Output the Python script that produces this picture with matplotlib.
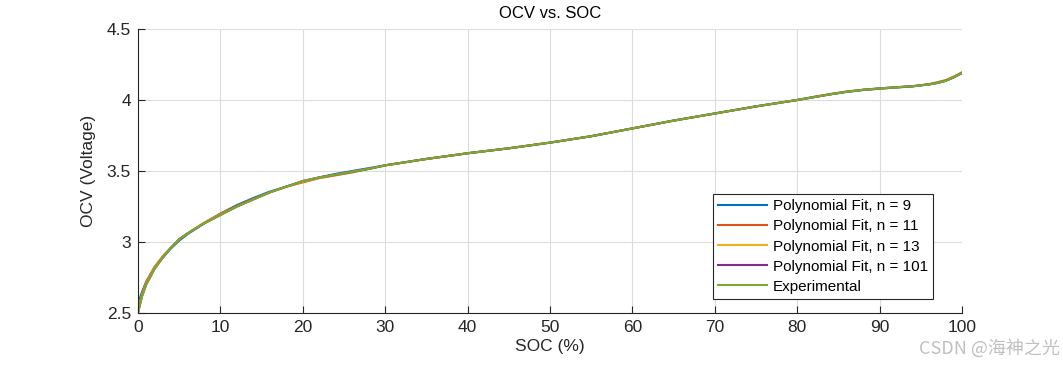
import matplotlib.pyplot as plt

# --- data ---
soc = [0, 0.5, 1, 2, 3, 4, 5, 6, 8, 10, 12, 14, 16, 18, 20, 22, 24, 26, 28, 30,
       35, 40, 45, 50, 55, 60, 65, 70, 75, 80, 82, 84, 86, 88, 90, 92, 94, 96,
       97, 98, 99, 100]

ocv_exp = [2.50, 2.62, 2.70, 2.81, 2.89, 2.96, 3.02, 3.06, 3.13, 3.19, 3.25,
           3.30, 3.35, 3.39, 3.43, 3.455, 3.475, 3.495, 3.515, 3.54, 3.585,
           3.625, 3.66, 3.70, 3.745, 3.80, 3.855, 3.905, 3.955, 4.00, 4.02,
           4.04, 4.058, 4.072, 4.082, 4.09, 4.097, 4.11, 4.12, 4.135, 4.16, 4.19]

fit_n9 = [2.57, 2.65, 2.72, 2.82, 2.89, 2.955, 3.01, 3.055, 3.13, 3.20, 3.26,
          3.31, 3.355, 3.39, 3.425, 3.455, 3.48, 3.50, 3.52, 3.54, 3.585,
          3.625, 3.66, 3.70, 3.745, 3.80, 3.855, 3.905, 3.955, 4.00, 4.02,
          4.04, 4.057, 4.07, 4.08, 4.088, 4.096, 4.11, 4.12, 4.135, 4.16, 4.19]

fit_n11 = [2.53, 2.64, 2.72, 2.825, 2.90, 2.96, 3.015, 3.06, 3.135, 3.20, 3.255,
           3.305, 3.35, 3.39, 3.42, 3.45, 3.47, 3.49, 3.515, 3.54, 3.585,
           3.625, 3.66, 3.70, 3.745, 3.80, 3.855, 3.905, 3.955, 4.00, 4.022,
           4.042, 4.06, 4.072, 4.08, 4.088, 4.097, 4.112, 4.125, 4.14, 4.165, 4.195]

fit_n13 = [2.52, 2.63, 2.71, 2.82, 2.895, 2.96, 3.02, 3.06, 3.135, 3.195, 3.25,
           3.30, 3.35, 3.39, 3.425, 3.452, 3.474, 3.495, 3.515, 3.54, 3.585,
           3.625, 3.66, 3.70, 3.745, 3.80, 3.855, 3.905, 3.955, 4.00, 4.02,
           4.04, 4.058, 4.071, 4.081, 4.089, 4.097, 4.11, 4.12, 4.137, 4.162, 4.19]

fit_n101 = [2.50, 2.62, 2.70, 2.81, 2.89, 2.96, 3.02, 3.06, 3.13, 3.19, 3.25,
            3.30, 3.35, 3.39, 3.43, 3.455, 3.475, 3.495, 3.515, 3.54, 3.585,
            3.625, 3.66, 3.70, 3.745, 3.80, 3.855, 3.905, 3.955, 4.00, 4.02,
            4.04, 4.058, 4.072, 4.082, 4.09, 4.097, 4.11, 4.12, 4.135, 4.16, 4.19]

x_ticks = [0, 10, 20, 30, 40, 50, 60, 70, 80, 90, 100]
y_ticks = [2.5, 3, 3.5, 4, 4.5]

plt.rcParams["font.family"] = ["Liberation Sans", "DejaVu Sans"]
plt.rcParams["font.size"] = 10

fig = plt.figure(figsize=(10.63, 3.67), dpi=100)
ax = fig.add_axes([0.1298, 0.147, 0.905 - 0.1298, 0.921 - 0.147])

series = [
    ("Polynomial Fit, n = 9",   fit_n9,   "#0072BD"),
    ("Polynomial Fit, n = 11",  fit_n11,  "#D95319"),
    ("Polynomial Fit, n = 13",  fit_n13,  "#EDB120"),
    ("Polynomial Fit, n = 101", fit_n101, "#7E2F8E"),
    ("Experimental",            ocv_exp,  "#77AC30"),
]
for label, vals, color in series:
    ax.plot(soc, vals, color=color, linewidth=1.5, label=label)

ax.set_xlim(0, 100)
ax.set_ylim(2.5, 4.5)
ax.set_xticks(x_ticks)
ax.set_xticklabels([str(t) for t in x_ticks])
ax.set_yticks(y_ticks)
ax.set_yticklabels(["2.5", "3", "3.5", "4", "4.5"])
ax.tick_params(direction="in", length=5, labelsize=12.5, colors="#262626",
               top=False, right=False, pad=5)
ax.grid(True, color="#dcdcdc", linewidth=0.8)
ax.set_axisbelow(True)
for side in ["top", "right"]:
    ax.spines[side].set_visible(False)
for side in ["left", "bottom"]:
    ax.spines[side].set_color("#262626")

ax.set_xlabel("SOC (%)", fontsize=12.5, color="#262626", labelpad=3)
ax.set_ylabel("OCV (Voltage)", fontsize=12.5, color="#262626", labelpad=8)
ax.set_title("OCV vs. SOC", fontsize=12, color="#000000", pad=8)

leg = ax.legend(loc="lower right", bbox_to_anchor=(0.965, 0.049), fontsize=11,
                fancybox=False, framealpha=1, edgecolor="#262626",
                handlelength=3.2, borderpad=0.35, labelspacing=0.4,
                handletextpad=0.35, borderaxespad=0)
leg.get_frame().set_linewidth(0.8)

fig.text(0.997, 0.05, "CSDN @海神之光", ha="right", va="center", fontsize=13,
         color="#c0c0c0", family=["Noto Sans CJK SC", "DejaVu Sans"])

fig.savefig("out.png", dpi=100)
